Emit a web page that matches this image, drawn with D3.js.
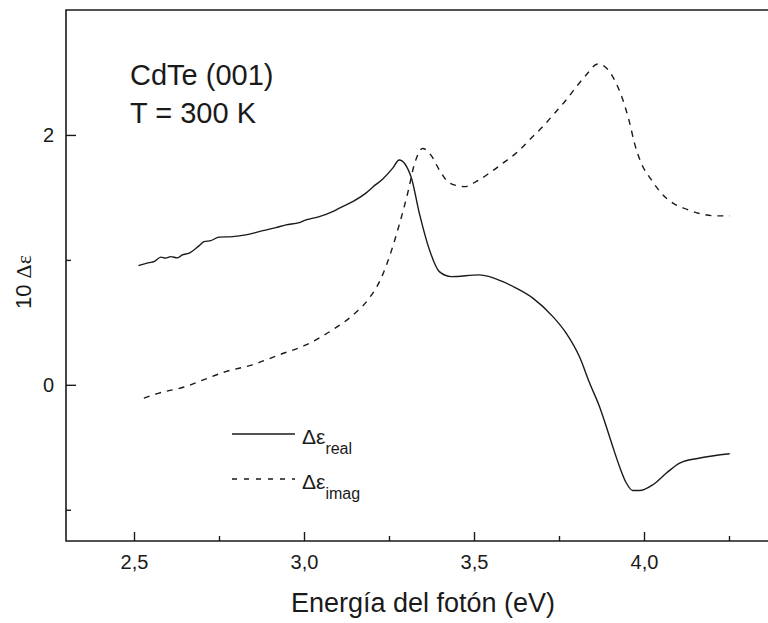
<!DOCTYPE html>
<html>
<head>
<meta charset="utf-8">
<script src="https://cdn.jsdelivr.net/npm/d3@7"></script>
<style>
	body { margin: 0; background: #fff; }
	svg { display: block; }
	text { font-family: "Liberation Sans", Arial, sans-serif; fill: #1a1a1a; }
</style>
</head>
<body>
<div id="dataviz"></div>
<script>
// Δε real (línea continua)
const energiaReal = [2.513, 2.544, 2.559, 2.579, 2.593, 2.608, 2.628, 2.642, 2.662, 2.691,
	2.706, 2.726, 2.750, 2.790, 2.829, 2.868, 2.917, 2.947, 2.986, 3.006,
	3.045, 3.084, 3.104, 3.143, 3.182, 3.202, 3.231, 3.261, 3.280, 3.315,
	3.339, 3.369, 3.398, 3.433, 3.516, 3.585, 3.624, 3.673, 3.732, 3.771,
	3.810, 3.840, 3.869, 3.889, 3.908, 3.928, 3.948, 3.967, 3.987, 4.026,
	4.066, 4.105, 4.164, 4.252];
const deltaReal = [0.954, 0.978, 0.986, 1.022, 1.014, 1.026, 1.016, 1.040, 1.054, 1.112,
	1.146, 1.154, 1.182, 1.186, 1.200, 1.226, 1.258, 1.280, 1.298, 1.320,
	1.346, 1.386, 1.414, 1.466, 1.534, 1.582, 1.646, 1.734, 1.800, 1.664,
	1.376, 1.080, 0.906, 0.866, 0.880, 0.826, 0.774, 0.694, 0.546, 0.414,
	0.226, 0.014, -0.174, -0.334, -0.494, -0.654, -0.786, -0.846, -0.846, -0.800,
	-0.706, -0.626, -0.586, -0.552];

// Δε imag (línea discontinua)
const energiaImag = [2.529, 2.574, 2.652, 2.691, 2.770, 2.848, 2.927, 3.006, 3.084, 3.153,
	3.192, 3.226, 3.256, 3.280, 3.305, 3.325, 3.349, 3.374, 3.398, 3.428,
	3.472, 3.506, 3.545, 3.585, 3.629, 3.663, 3.702, 3.737, 3.771, 3.801,
	3.830, 3.864, 3.899, 3.918, 3.938, 3.958, 3.972, 3.992, 4.022, 4.051,
	4.085, 4.125, 4.169, 4.213, 4.252];
const deltaImag = [-0.106, -0.066, -0.014, 0.026, 0.106, 0.160, 0.240, 0.320, 0.440, 0.580,
	0.694, 0.848, 1.064, 1.280, 1.534, 1.768, 1.892, 1.836, 1.720, 1.616,
	1.586, 1.626, 1.694, 1.774, 1.866, 1.960, 2.066, 2.174, 2.280, 2.386,
	2.480, 2.568, 2.506, 2.414, 2.280, 2.094, 1.934, 1.774, 1.640, 1.534,
	1.454, 1.406, 1.368, 1.352, 1.352];

const ticksX = [2.5, 3.0, 3.5, 4.0];
const ticksXMenor = [2.75, 3.25, 3.75, 4.25];
const ticksY = [0, 2];
const ticksYMenor = [-1, 1];

const serieReal = energiaReal.map((e, i) => ({e: e, v: deltaReal[i]}));
const serieImag = energiaImag.map((e, i) => ({e: e, v: deltaImag[i]}));

var svgWidth = 768;
var svgHeight = 623;
var svg = d3.select("#dataviz")
	.append("svg")
	.attr("width", svgWidth)
	.attr("height", svgHeight);

var x = d3.scaleLinear()
	.domain([2.3, 4.4])
	.range([66, 780]);

var y = d3.scaleLinear()
	.domain([-1.25, 3.0])
	.range([541, 10]);

var coma = d => d3.format(".1f")(d).replace(".", ",");

function estilo(g) {
	g.select(".domain").remove();
	g.selectAll("line").attr("stroke", "#1a1a1a").attr("stroke-width", 1.4);
	g.selectAll("text").attr("font-size", 20).attr("fill", "#1a1a1a")
		.attr("font-family", "'Liberation Sans', Arial, sans-serif");
}

// ejes: ticks hacia dentro
svg.append("g")
	.attr("transform", "translate(0,541)")
	.call(d3.axisBottom(x).tickValues(ticksX).tickSize(-9).tickPadding(14).tickFormat(coma))
	.call(estilo);
svg.append("g")
	.attr("transform", "translate(0,541)")
	.call(d3.axisBottom(x).tickValues(ticksXMenor).tickSize(-5).tickFormat(""))
	.call(estilo);
svg.append("g")
	.attr("transform", "translate(66,0)")
	.call(d3.axisLeft(y).tickValues(ticksY).tickSize(-10).tickPadding(12).tickFormat(d3.format("d")))
	.call(estilo);
svg.append("g")
	.attr("transform", "translate(66,0)")
	.call(d3.axisLeft(y).tickValues(ticksYMenor).tickSize(-5).tickFormat(""))
	.call(estilo);

// marco
svg.append("path")
	.attr("d", "M" + x.range()[1] + "," + y(3.0) + "H66V541H" + x.range()[1])
	.attr("fill", "none")
	.attr("stroke", "#1a1a1a")
	.attr("stroke-width", 1.6);

var linea = d3.line()
	.x(d => x(d.e))
	.y(d => y(d.v))
	.curve(d3.curveMonotoneX);

svg.append("path")
	.datum(serieReal)
	.attr("fill", "none")
	.attr("stroke", "#1a1a1a")
	.attr("stroke-width", 1.4)
	.attr("stroke-linejoin", "round")
	.attr("d", linea);

svg.append("path")
	.datum(serieImag)
	.attr("fill", "none")
	.attr("stroke", "#1a1a1a")
	.attr("stroke-width", 1.4)
	.attr("stroke-dasharray", "6,6")
	.attr("d", linea);

// textos
svg.append("text").attr("x", 130).attr("y", 85).attr("font-size", 29).text("CdTe (001)");
svg.append("text").attr("x", 130).attr("y", 123).attr("font-size", 29).text("T = 300 K");

svg.append("text")
	.attr("x", 423)
	.attr("y", 612)
	.attr("text-anchor", "middle")
	.attr("font-size", 27)
	.text("Energía del fotón (eV)");

var ylab = svg.append("text")
	.attr("transform", "translate(31,282) rotate(-90)")
	.attr("text-anchor", "middle")
	.attr("font-size", 22);
ylab.append("tspan").text("10 ");
ylab.append("tspan").attr("font-family", "'Liberation Serif', serif").attr("font-size", 22).text("Δε");

// leyenda
var leyenda = [
	{nombre: "real", dash: null, y: 434},
	{nombre: "imag", dash: "5,7", y: 479}
];
leyenda.forEach(function(l) {
	svg.append("line")
		.attr("x1", 232).attr("x2", 295)
		.attr("y1", l.y).attr("y2", l.y)
		.attr("stroke", "#1a1a1a")
		.attr("stroke-width", 1.4)
		.attr("stroke-dasharray", l.dash);
	var t = svg.append("text").attr("x", 302).attr("y", l.y + 10).attr("font-size", 21);
	t.append("tspan").text("Δε");
	t.append("tspan").attr("font-size", 16).attr("dy", 10).text(l.nombre);
});
</script>
</body>
</html>
